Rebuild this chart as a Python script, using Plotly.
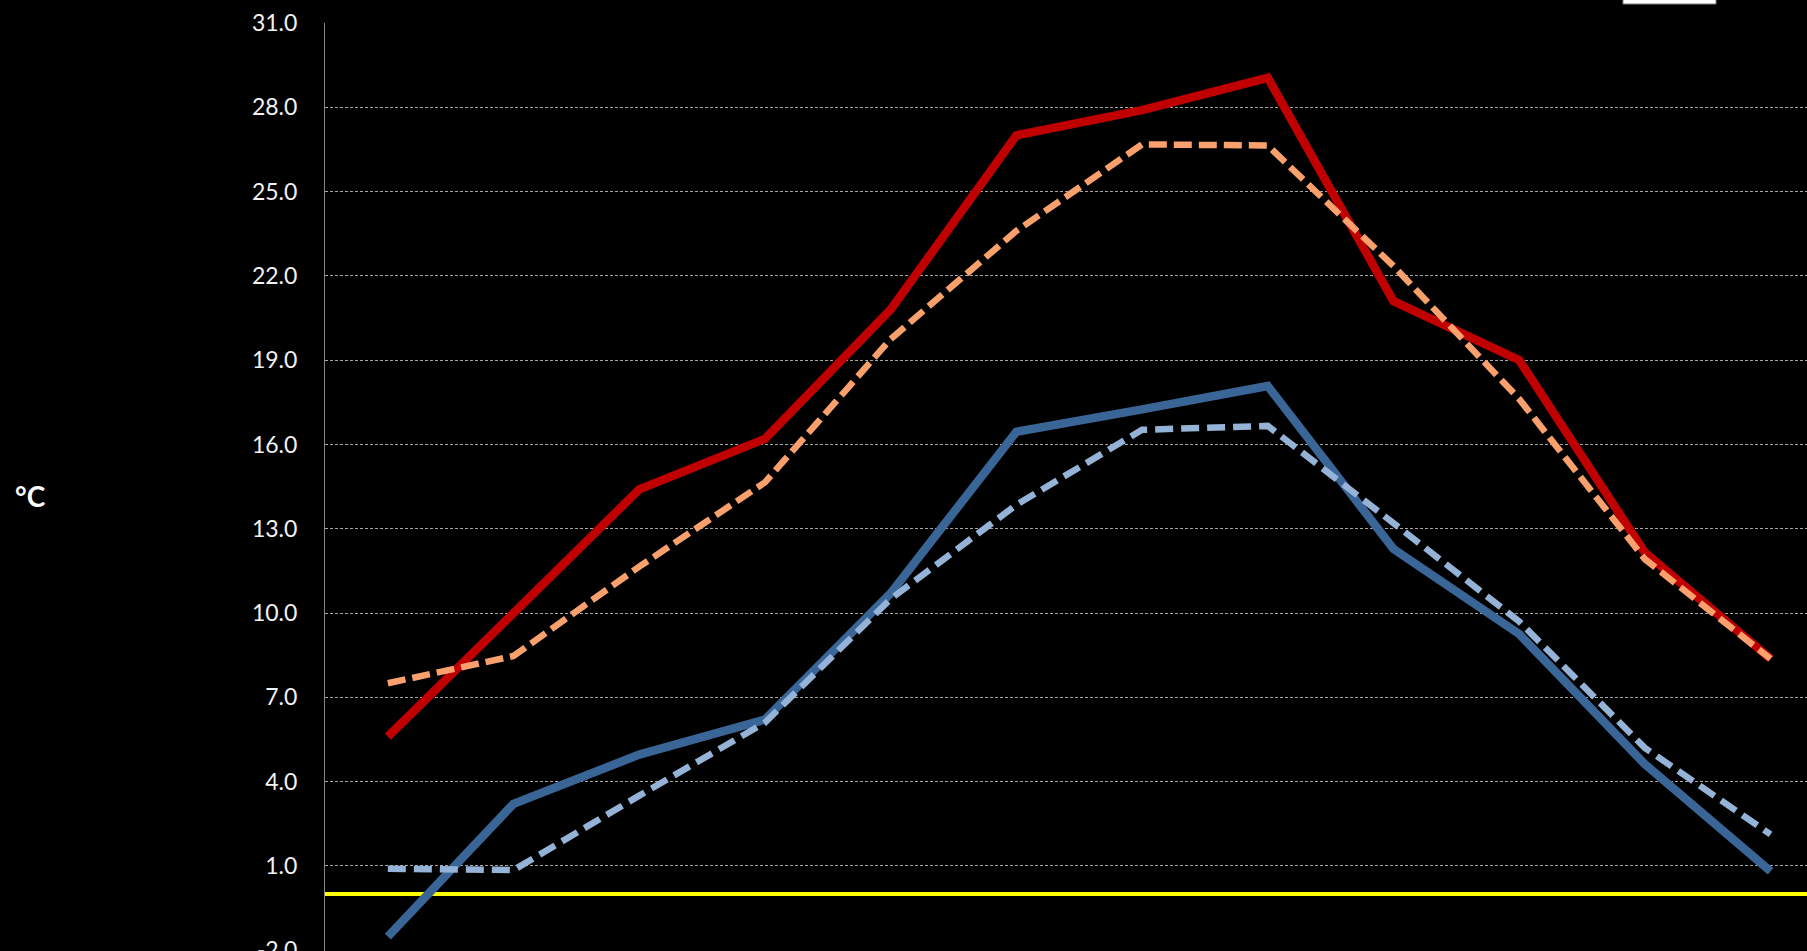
import plotly.graph_objects as go

months = ["Jan", "Feb", "Mar", "Apr", "May", "Jun", "Jul", "Aug", "Sep", "Oct", "Nov", "Dec"]

max_this_year = [5.6, 10.0, 14.4, 16.2, 20.8, 27.0, 27.9, 29.05, 21.1, 19.0, 12.15, 8.37]
max_normal = [7.5, 8.47, 11.65, 14.65, 19.75, 23.6, 26.68, 26.64, 22.35, 17.62, 11.92, 8.37]
min_this_year = [-1.52, 3.21, 4.96, 6.21, 10.7, 16.45, 17.25, 18.08, 12.28, 9.25, 4.62, 0.81]
min_normal = [0.9, 0.85, 3.5, 6.1, 10.5, 13.85, 16.52, 16.66, 13.2, 9.7, 5.2, 2.12]

y_ticks = [-2.0, 1.0, 4.0, 7.0, 10.0, 13.0, 16.0, 19.0, 22.0, 25.0, 28.0, 31.0]

fig = go.Figure()
fig.add_trace(go.Scatter(x=months, y=max_this_year, mode="lines",
                         line=dict(color="#C00000", width=8.5), name="Max"))
fig.add_trace(go.Scatter(x=months, y=max_normal, mode="lines",
                         line=dict(color="#F9A06C", width=6.5, dash="18px,7px"), name="Max normal"))
fig.add_trace(go.Scatter(x=months, y=min_this_year, mode="lines",
                         line=dict(color="#3A6597", width=8.5), name="Min"))
fig.add_trace(go.Scatter(x=months, y=min_normal, mode="lines",
                         line=dict(color="#95B3D7", width=6.5, dash="18px,8px"), name="Min normal"))

fig.update_layout(
    width=1807, height=951,
    margin=dict(l=325, r=0, t=23, b=0, autoexpand=False),
    paper_bgcolor="#000000", plot_bgcolor="#000000",
    showlegend=False,
    font=dict(family="Lato", color="#F2F2F2"),
)
fig.update_xaxes(type="category", range=[-0.5, 11.29], showgrid=False, zeroline=False,
                 showticklabels=False, showline=False, ticks="", automargin=False)
fig.update_yaxes(range=[-2.03, 31], tickvals=y_ticks, ticktext=[f"{v:.1f}" for v in y_ticks],
                 tickfont=dict(family="Lato", size=23, color="#F2F2F2"),
                 ticklabelstandoff=22, ticklabeloverflow="allow", automargin=False,
                 showgrid=True, gridcolor="#A6A6A6", gridwidth=1, griddash="3px,2px",
                 zeroline=True, zerolinecolor="#FFFF00", zerolinewidth=4,
                 showline=True, linecolor="#868686", linewidth=1, ticks="")

fig.add_annotation(text="<b>°C</b>", xref="paper", yref="paper",
                   x=-(325 - 30) / 1482, y=(951 - 496) / 928, xanchor="center", yanchor="middle",
                   showarrow=False, font=dict(family="Lato", size=28, color="#FFFFFF"))

fig.add_shape(type="rect", xref="paper", yref="paper",
              x0=(1623 - 325) / 1482, x1=(1716 - 325) / 1482,
              y0=(951 - 4) / 928, y1=(951 + 10) / 928,
              fillcolor="#FFFFFF", line=dict(color="#7F7F7F", width=1))

fig.write_html("out.html", config={"displayModeBar": False},
               post_script="document.body.style.margin='0';document.body.style.overflow='hidden';document.body.style.background='#000';")
